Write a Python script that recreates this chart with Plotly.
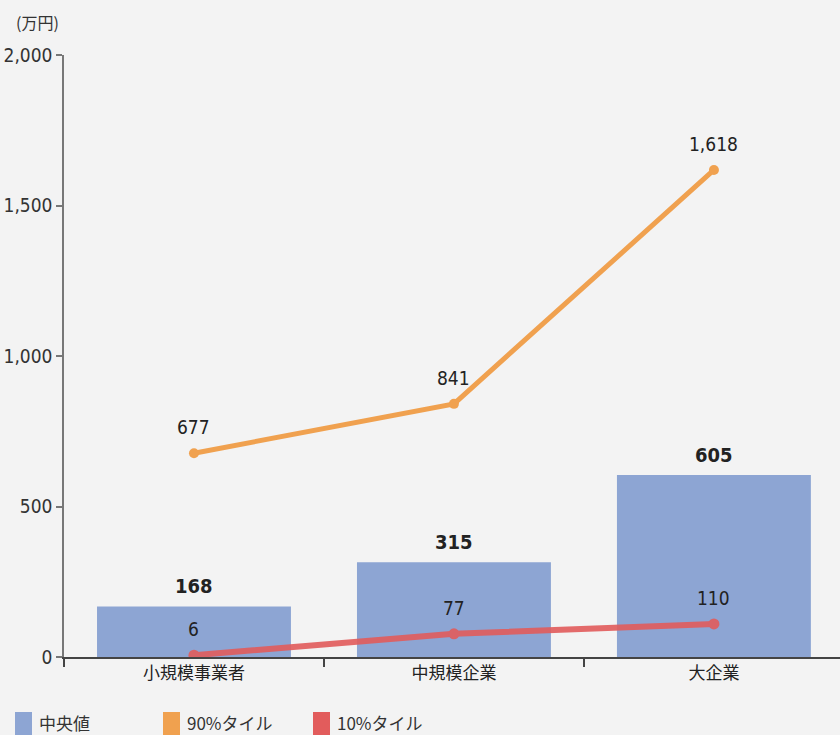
import plotly.graph_objects as go

# 企業規模別の年収分布（万円）
categories = ["小規模事業者", "中規模企業", "大企業"]
median_vals = [168, 315, 605]
p90_vals = [677, 841, 1618]
p10_vals = [6, 77, 110]
y_ticks = [0, 500, 1000, 1500, 2000]
legend_names = ["中央値", "90%タイル", "10%タイル"]

BLUE = "#8da5d3"
ORANGE = "#f0a14f"
RED = "#e25c5c"
TXT = "#222222"
NUM_FONT = "DejaVu Sans Condensed"
CJK_FONT = "Noto Sans CJK JP"

fig = go.Figure()

fig.add_trace(go.Bar(
    x=categories, y=median_vals, marker=dict(color=BLUE, line=dict(width=0)),
    width=0.746, showlegend=False, hoverinfo="skip",
))
fig.add_trace(go.Scatter(
    x=categories, y=p90_vals, mode="lines+markers",
    line=dict(color=ORANGE, width=5), marker=dict(color=ORANGE, size=10),
    showlegend=False, hoverinfo="skip",
))
fig.add_trace(go.Scatter(
    x=categories, y=p10_vals, mode="lines+markers",
    line=dict(color=RED, width=6), marker=dict(color=RED, size=11),
    opacity=0.9, showlegend=False, hoverinfo="skip",
))

annotations = []
for c, v in zip(categories, median_vals):
    annotations.append(dict(x=c, y=v, text=f"<b>{v:,}</b>", showarrow=False,
                            yanchor="bottom", yshift=6,
                            font=dict(family=NUM_FONT, size=20, color=TXT)))
for series in (p90_vals, p10_vals):
    for c, v in zip(categories, series):
        annotations.append(dict(x=c, y=v, text=f"{v:,}", showarrow=False,
                                yanchor="bottom", yshift=13,
                                font=dict(family=NUM_FONT, size=19, color=TXT)))

# unit label
annotations.append(dict(xref="paper", yref="paper", x=(14 - 64) / 776, y=(657 - 22) / 602,
                        xanchor="left", yanchor="middle", text="(万円)", showarrow=False,
                        font=dict(family=CJK_FONT, size=16, color="#333333")))

# custom legend along the bottom
shapes = []
legend_colors = [BLUE, ORANGE, RED]
legend_x = [15, 163, 313]
for name, col, lx in zip(legend_names, legend_colors, legend_x):
    shapes.append(dict(type="rect", xref="paper", yref="paper",
                       x0=(lx - 64) / 776, x1=(lx + 17 - 64) / 776,
                       y0=(657 - 740) / 602, y1=(657 - 712) / 602,
                       fillcolor=col, line=dict(width=0)))
    annotations.append(dict(xref="paper", yref="paper", x=(lx + 22 - 64) / 776,
                            y=(657 - 722) / 602, xanchor="left", yanchor="middle",
                            text=name, showarrow=False,
                            font=dict(family=CJK_FONT, size=17, color="#333333")))

fig.update_layout(
    width=840, height=735,
    margin=dict(l=64, r=0, t=55, b=78),
    paper_bgcolor="#f3f3f3", plot_bgcolor="#f3f3f3",
    annotations=annotations, shapes=shapes,
    xaxis=dict(type="category", range=[-0.5, 2.485], tickson="boundaries",
               ticks="outside", ticklen=8, tickcolor="#444444", tickwidth=1.5,
               showline=True, linecolor="#444444", linewidth=1.5,
               showgrid=False, zeroline=False,
               tickfont=dict(family=CJK_FONT, size=17, color=TXT)),
    yaxis=dict(range=[0, 2000], tickvals=y_ticks,
               ticktext=[f"{t:,}" for t in y_ticks],
               ticks="outside", ticklen=6, tickcolor="#777777", tickwidth=1.5,
               showline=True, linecolor="#777777", linewidth=1.5,
               showgrid=False, zeroline=False,
               tickfont=dict(family=NUM_FONT, size=19, color="#333333")),
)

fig.write_html("out.html")
